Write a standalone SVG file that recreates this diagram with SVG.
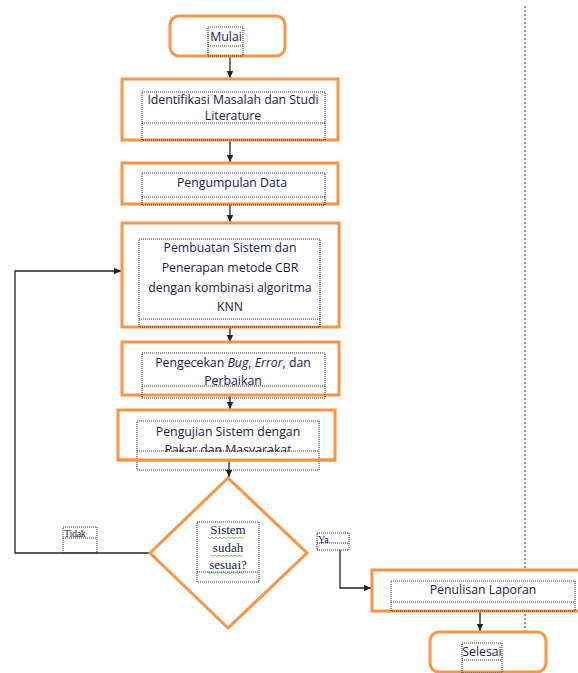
<svg xmlns="http://www.w3.org/2000/svg" width="578" height="673" viewBox="0 0 578 673">
<defs>
<marker id="ah" markerWidth="8" markerHeight="8" refX="7" refY="4" orient="auto" markerUnits="userSpaceOnUse">
<path d="M0,0.8 L7,4 L0,7.2 Z" fill="#222"/>
</marker>
<style>
.box{fill:#fff;stroke:#F79646;stroke-width:3}
.dot{fill:none;stroke:#333;stroke-width:1;stroke-dasharray:1 1}
.t{font-family:"Open Sans","Liberation Sans",sans-serif;font-size:12.3px;fill:#1b1b4a;text-anchor:middle}
.s{font-family:"Liberation Serif",serif;font-size:13px;fill:#1b1b4a;text-anchor:middle}
.sl{font-family:"Liberation Serif",serif;font-size:10px;fill:#1b1b4a}
.c{fill:none;stroke:#222;stroke-width:1.3}
.sq{fill:none;stroke:#6aa84f;stroke-width:0.8}
</style>
</defs>
<rect width="578" height="673" fill="#fff"/>
<line x1="525" y1="6" x2="525" y2="631" stroke="#444" stroke-width="1" stroke-dasharray="2 2"/>
<g id="connectors">
<line class="c" x1="230" y1="56" x2="230" y2="78" marker-end="url(#ah)"/>
<line class="c" x1="230" y1="140" x2="230" y2="162" marker-end="url(#ah)"/>
<line class="c" x1="230" y1="205" x2="230" y2="222" marker-end="url(#ah)"/>
<line class="c" x1="230" y1="327" x2="230" y2="342" marker-end="url(#ah)"/>
<line class="c" x1="230" y1="396" x2="230" y2="409" marker-end="url(#ah)"/>
<line class="c" x1="229" y1="461" x2="229" y2="477" marker-end="url(#ah)"/>
<polyline class="c" points="150,553 15,553 15,271 121,271" marker-end="url(#ah)"/>
<polyline class="c" points="340,550 340,588 371,588" marker-end="url(#ah)"/>
<line class="c" x1="480" y1="611" x2="480" y2="631" marker-end="url(#ah)"/>
</g>
<g id="mulai">
<rect class="box" x="170" y="16" width="115" height="40" rx="9"/>
<rect class="dot" x="208" y="27" width="35" height="29"/>
<line class="dot" x1="208" y1="46" x2="243" y2="46"/>
<text class="t" x="226" y="41">Mulai</text>
</g>
<g id="identifikasi">
<rect class="box" x="122" y="79" width="216" height="61"/>
<rect class="dot" x="142" y="92" width="183" height="48"/>
<line class="dot" x1="142" y1="123" x2="325" y2="123"/>
<text class="t" x="233" y="104">Identifikasi Masalah dan Studi</text>
<text class="t" x="233" y="120">Literature</text>
</g>
<g id="pengumpulan">
<rect class="box" x="122" y="163" width="216" height="41"/>
<rect class="dot" x="142" y="173" width="183" height="32"/>
<line class="dot" x1="142" y1="197" x2="325" y2="197"/>
<text class="t" x="232" y="187">Pengumpulan Data</text>
</g>
<g id="pembuatan">
<rect class="box" x="122" y="223" width="217" height="104"/>
<rect class="dot" x="139" y="239" width="181" height="88"/>
<line class="dot" x1="139" y1="319" x2="320" y2="319"/>
<text class="t" x="230" y="252">Pembuatan Sistem dan</text>
<text class="t" x="230" y="272">Penerapan metode CBR</text>
<text class="t" x="230" y="292">dengan kombinasi algoritma</text>
<text class="t" x="230" y="311">KNN</text>
</g>
<g id="pengecekan">
<rect class="box" x="122" y="342" width="217" height="53"/>
<rect class="dot" x="142" y="353" width="183" height="45"/>
<line class="dot" x1="142" y1="386" x2="325" y2="386"/>
<text class="t" x="233" y="367">Pengecekan <tspan font-style="italic">Bug</tspan>, <tspan font-style="italic">Error</tspan>, dan</text>
<text class="t" x="233" y="385">Perbaikan</text>
</g>
<g id="pengujian">
<rect class="box" x="118" y="410" width="217" height="50"/>
<rect class="dot" x="137" y="421" width="182" height="49"/>
<text class="t" x="228" y="436">Pengujian Sistem dengan</text>
<text class="t" x="228" y="454">Pakar dan Masyarakat</text>
<rect x="138" y="452" width="180" height="8" fill="#fff"/>
<line class="dot" x1="137" y1="451" x2="319" y2="451"/>
<line x1="119.5" y1="460" x2="333.5" y2="460" stroke="#F79646" stroke-width="3"/>
</g>
<g id="keputusan">
<polygon points="228,478 307,553 228,628 150,553" fill="#fff" stroke="#F79646" stroke-width="3"/>
<rect class="dot" x="197" y="522" width="62" height="60"/>
<line class="dot" x1="197" y1="572" x2="259" y2="572"/>
<text class="s" x="228" y="534">Sistem</text>
<text class="s" x="228" y="552">sudah</text>
<text class="s" x="228" y="569">sesuai?</text>
<path class="sq" d="M208,537 l2,1.5 l2,-1.5 l2,1.5 l2,-1.5 l2,1.5 l2,-1.5 l2,1.5 l2,-1.5 l2,1.5 l2,-1.5 l2,1.5 l2,-1.5 l2,1.5 l2,-1.5 l2,1.5 l2,-1.5 l2,1.5 l2,-1.5"/>
<path class="sq" d="M211,555 l2,1.5 l2,-1.5 l2,1.5 l2,-1.5 l2,1.5 l2,-1.5 l2,1.5 l2,-1.5 l2,1.5 l2,-1.5 l2,1.5 l2,-1.5 l2,1.5 l2,-1.5 l2,1.5 l2,-1.5"/>
<path class="sq" d="M208,572 l2,1.5 l2,-1.5 l2,1.5 l2,-1.5 l2,1.5 l2,-1.5 l2,1.5 l2,-1.5 l2,1.5 l2,-1.5 l2,1.5 l2,-1.5 l2,1.5 l2,-1.5 l2,1.5 l2,-1.5 l2,1.5 l2,-1.5"/>
</g>
<g id="label-tidak">
<rect class="dot" x="63" y="527" width="34" height="26"/>
<line class="dot" x1="63" y1="538" x2="97" y2="538"/>
<text class="sl" x="64" y="537" letter-spacing="-0.3">Tidak</text>
</g>
<g id="label-ya">
<rect class="dot" x="317" y="533" width="32" height="17"/>
<line class="dot" x1="317" y1="543" x2="349" y2="543"/>
<text class="sl" x="318" y="543">Ya</text>
</g>
<g id="penulisan">
<rect class="box" x="372" y="570" width="210" height="41"/>
<rect class="dot" x="391" y="581" width="184" height="30"/>
<line class="dot" x1="391" y1="602" x2="575" y2="602"/>
<text class="t" x="483" y="594">Penulisan Laporan</text>
</g>
<g id="selesai">
<rect class="box" x="430" y="632" width="116" height="40" rx="9"/>
<rect class="dot" x="462" y="643" width="40" height="30"/>
<line class="dot" x1="462" y1="660" x2="502" y2="660"/>
<text class="t" x="482" y="656">Selesai</text>
</g>
</svg>
